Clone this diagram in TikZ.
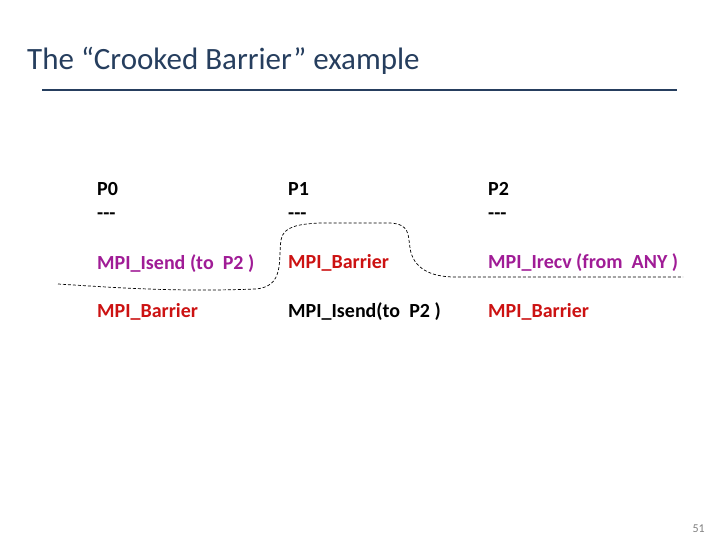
\documentclass[tikz,border=0pt]{standalone}
\usepackage{fontspec}
\setmainfont{Carlito}
\usetikzlibrary{positioning}
\definecolor{titleblue}{RGB}{38,62,94}
\definecolor{callred}{RGB}{204,18,18}
\definecolor{callpurple}{RGB}{160,28,150}

\begin{document}
\begin{tikzpicture}[x=1pt,y=-1pt,
  code/.style={anchor=base west,inner sep=0pt,font=\fontsize{20}{22}\selectfont\bfseries},
  barr/.style={code,text=callred},
  nonblk/.style={code,text=callpurple}]
\useasboundingbox (0,0) rectangle (720,540);
\node[anchor=base west,inner sep=0pt,text=titleblue,font=\fontsize{31}{34}\selectfont] (title) at (27,70) {The “Crooked Barrier” example};
\draw[titleblue,line width=2pt] (42,90) -- (677,90);
% process names
\node[code] (p0) at (97,196) {P0};
\node[code] (p1) at (288,196) {P1};
\node[code] (p2) at (488,196) {P2};
\node[code] (d0) at (97,220) {-{}-{}-};
\node[code] (d1) at (288,220) {-{}-{}-};
\node[code] (d2) at (488,220) {-{}-{}-};
% first call
\node[nonblk] (isend0) at (97,269) {MPI\_Isend (to~ P2 )};
\node[barr] (barr1) at (288,268) {MPI\_Barrier};
\node[nonblk] (irecv2) at (488,268) {MPI\_Irecv (from~ ANY )};
% second call
\node[barr] (barr0) at (97,317) {MPI\_Barrier};
\node[code] (isend1) at (288,317) {MPI\_Isend(to~ P2 )};
\node[barr] (barr2) at (488,317) {MPI\_Barrier};
% the crooked line
\draw[black,line width=0.7pt,dash pattern=on 3pt off 2pt] (58,284) .. controls (120,288) and (180,292) .. (255,289)
  .. controls (285,287) and (278,260) .. (281,240)
  .. controls (283,226) and (300,224) .. (320,223)
  -- (390,223) .. controls (410,224) and (408,235) .. (410,248)
  .. controls (413,268) and (430,277) .. (455,277) -- (683,277);
\node[anchor=base east,inner sep=0pt,text=gray,font=\fontsize{12}{14}\selectfont] (page) at (705,532) {51};
\end{tikzpicture}
\end{document}
